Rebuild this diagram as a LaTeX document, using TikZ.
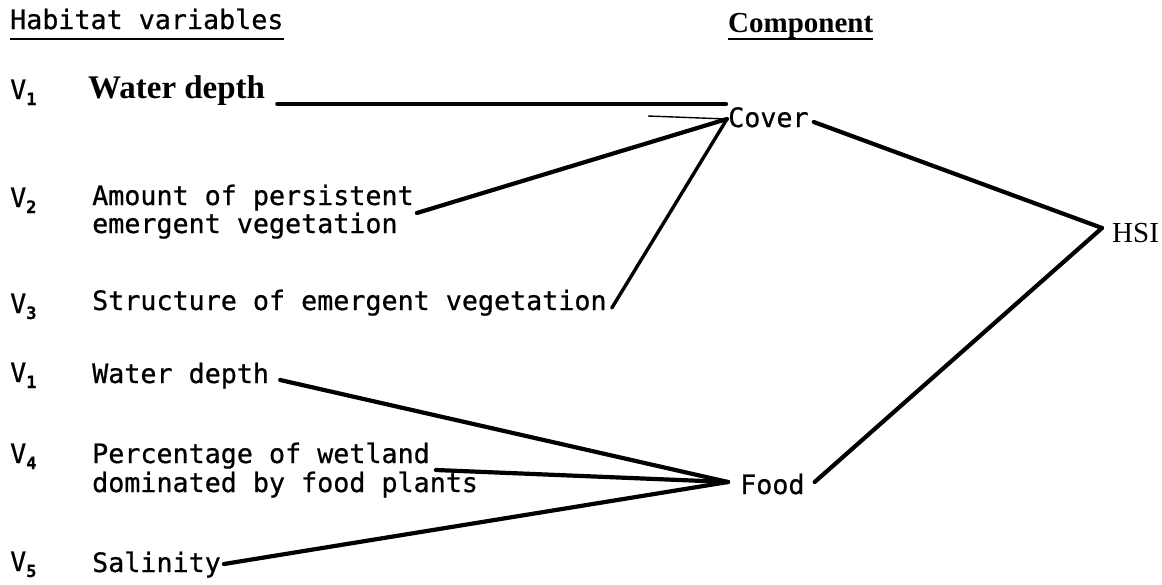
\documentclass[tikz,border=0pt]{standalone}
\usepackage{fontspec}
\usepackage{tikz}
\usetikzlibrary{positioning,calc}
\newfontfamily\typefont[FakeBold=0.7]{DejaVu Sans Mono}
\newfontfamily\headfont{Liberation Serif}
\newcommand{\vsub}[1]{\raisebox{-6pt}{\fontsize{17}{17}\selectfont\bfseries #1}}

\begin{document}
\begin{tikzpicture}[x=1pt,y=-1pt,
  var/.style={anchor=base west,inner sep=0pt,font=\typefont\fontsize{26.7}{30}\selectfont},
  head/.style={anchor=base west,inner sep=0pt,font=\headfont\bfseries\fontsize{29}{32}\selectfont},
  link/.style={line width=4.2pt,line cap=round},
  uline/.style={line width=2.2pt}]
  \useasboundingbox (0,0) rectangle (1162,584);
  % headings
  \node[var] (hv) at (10,29) {Habitat variables};
  \node[head] (cp) at (728,32) {Component};
  \draw[uline] ([yshift=-10pt]hv.base west) -- ([yshift=-10pt]hv.base east);
  \draw[uline] ([yshift=-7pt]cp.base west) -- ([yshift=-7pt]cp.base east);
  % variables
  \node[var] (v1a) at (10,99) {V\vsub{1}};
  \node[head,font=\headfont\bfseries\fontsize{33}{35}\selectfont] (wd1) at (88,98) {Water depth};
  \node[var] (v2) at (10,207) {V\vsub{2}};
  \node[var] (am1) at (92,205) {Amount of persistent};
  \node[var] (am2) at (92,233) {emergent vegetation};
  \node[var] (v3) at (10,313) {V\vsub{3}};
  \node[var] (st) at (92,310) {Structure of emergent vegetation};
  \node[var] (v1b) at (10,382) {V\vsub{1}};
  \node[var] (wd2) at (92,383) {Water depth};
  \node[var] (v4) at (10,463) {V\vsub{4}};
  \node[var] (pc1) at (92,463) {Percentage of wetland};
  \node[var] (pc2) at (92,492) {dominated by food plants};
  \node[var] (v5) at (10,571) {V\vsub{5}};
  \node[var] (sal) at (92,572) {Salinity};
  % components and index
  \node[var] (cv) at (728,127) {Cover};
  \node[var] (fd) at (740,494) {Food};
  \node[anchor=base west,inner sep=0pt,font=\headfont\fontsize{29}{32}\selectfont] (hsi) at (1112,242) {HSI};
  \coordinate (cj) at (727,119);
  \coordinate (fj) at (728,482);
  \coordinate (hj) at (1102,228);
  \coordinate (wedge) at (648,116);
  % links
  \draw[link] ([shift={(12,6)}]wd1.base east) -- ([shift={(-2,-23)}]cv.base west);
  \draw[line width=1.4pt] (wedge) -- (cj);
  \draw[link] ([shift={(3,8)}]am1.base east) -- (cj);
  \draw[link,line width=3.4pt] ([shift={(5,-2)}]st.base east) -- (cj);
  \draw[link] ([shift={(11,-3)}]wd2.base east) -- (fj);
  \draw[link] ([shift={(6,7)}]pc1.base east) -- (fj);
  \draw[link] ([shift={(3,-8)}]sal.base east) -- (fj);
  \draw[link] ([shift={(5,-5)}]cv.base east) -- (hj);
  \draw[link] ([shift={(10,-12)}]fd.base east) -- (hj);
\end{tikzpicture}
\end{document}
